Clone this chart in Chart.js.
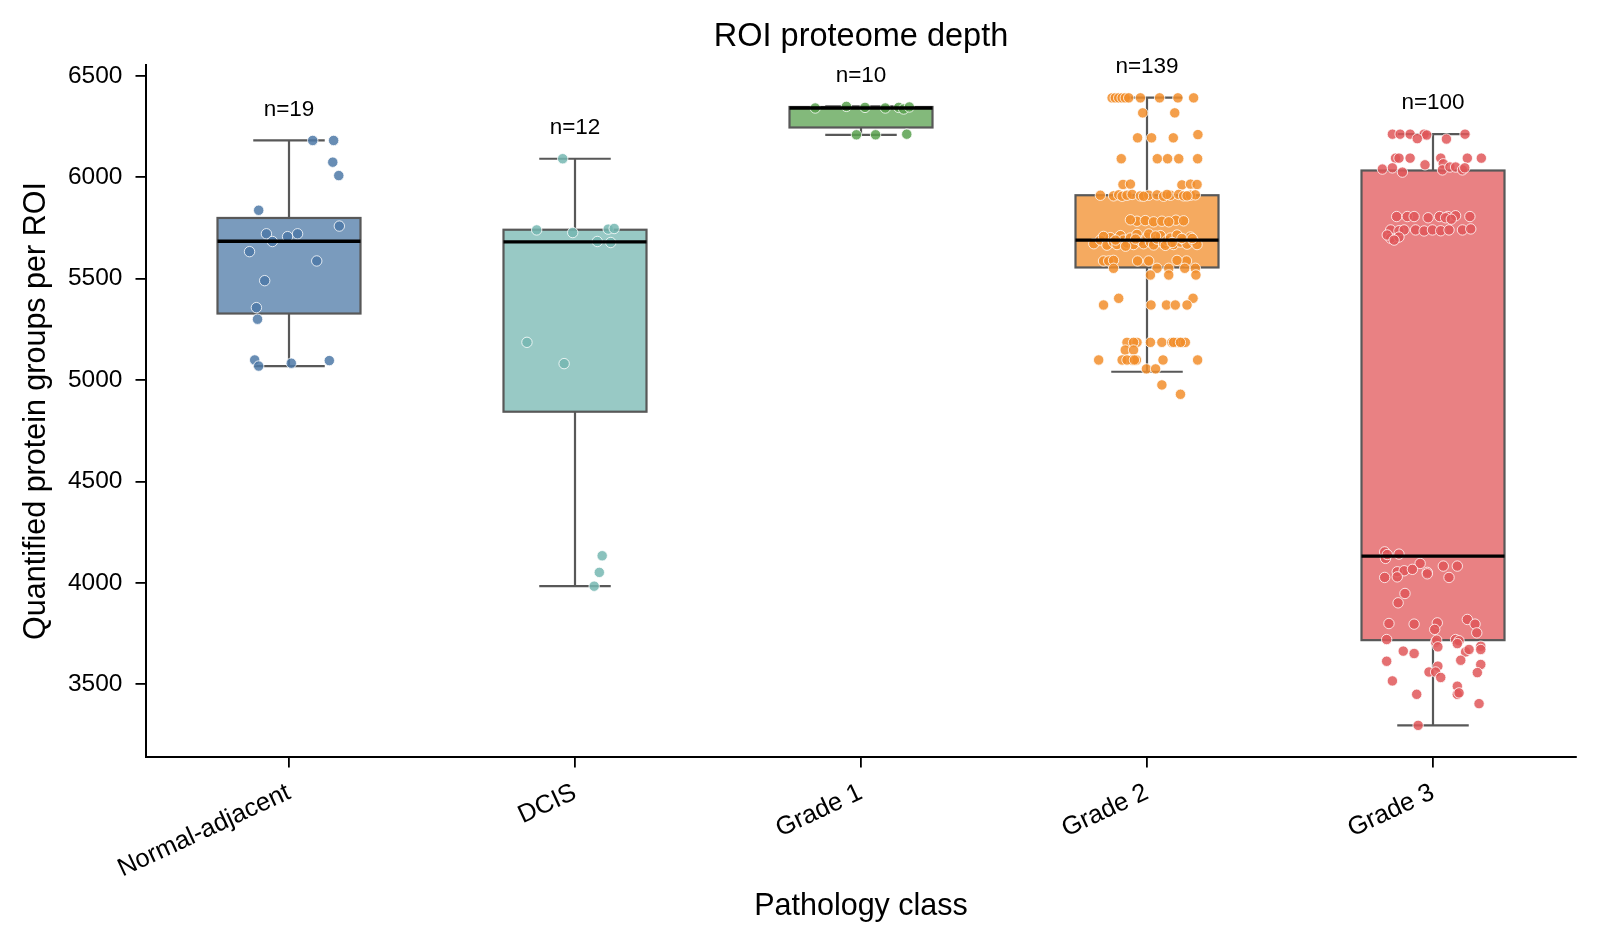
<!DOCTYPE html>
<html>
<head>
<meta charset="utf-8">
<title>ROI proteome depth</title>
<script src="https://cdn.jsdelivr.net/npm/chart.js@4.4.1/dist/chart.umd.min.js"></script>
<style>
  html, body { margin: 0; padding: 0; background: #fff; }
  #wrap { width: 1600px; height: 947px; position: relative; }
</style>
</head>
<body>
<div id="wrap"><canvas id="chart"></canvas></div>
<script>
// categorias e estatisticas das caixas
const categories = ['Normal-adjacent', 'DCIS', 'Grade 1', 'Grade 2', 'Grade 3'];
const counts = [19, 12, 10, 139, 100];
const whiskerLow = [5069, 3984, 6209, 5041, 3298];
const q1 = [5328, 4844, 6245, 5555, 3718];
const median = [5684, 5681, 6341, 5690, 4132];
const q3 = [5799, 5741, 6346, 5911, 6033];
const whiskerHigh = [6181, 6091, 6349, 6392, 6212];
const yTicks = [3500, 4000, 4500, 5000, 5500, 6000, 6500];
const colors = ['#4e79a7', '#76b7b2', '#59a14f', '#f28e2b', '#e15759'];

// pontos: [deslocamento horizontal, valor]
const normalPts = [
  [0.083, 6181], [0.156, 6181], [0.153, 6074], [0.174, 6008], [-0.106, 5837],
  [0.176, 5759], [-0.079, 5721], [-0.058, 5683], [-0.005, 5707], [0.030, 5721],
  [-0.138, 5633], [0.097, 5587], [-0.085, 5490], [-0.114, 5357], [-0.110, 5300],
  [-0.120, 5099], [-0.106, 5069], [0.008, 5083], [0.141, 5096]
];
const dcisPts = [
  [-0.043, 6091], [-0.134, 5740], [-0.008, 5727], [0.116, 5744], [0.137, 5747],
  [0.078, 5683], [0.125, 5678], [-0.168, 5186], [-0.038, 5081], [0.095, 4134],
  [0.085, 4052], [0.067, 3984]
];
const grade1Pts = [
  [-0.160, 6341], [-0.051, 6349], [0.014, 6344], [0.085, 6341], [0.132, 6344],
  [0.149, 6336], [0.169, 6346], [-0.016, 6209], [0.051, 6209], [0.160, 6212]
];
const grade2Pts = [
  [-0.122, 6391], [-0.111, 6391], [-0.099, 6391], [-0.087, 6391], [-0.076, 6391],
  [-0.064, 6391], [-0.023, 6391], [0.044, 6391], [0.108, 6391], [0.163, 6391],
  [-0.015, 6317], [0.097, 6317],
  [-0.033, 6194], [0.016, 6194], [0.092, 6194], [0.178, 6210],
  [-0.090, 6091], [0.036, 6091], [0.072, 6091], [0.111, 6091], [0.177, 6091],
  [-0.084, 5964], [-0.058, 5966], [0.122, 5962], [0.152, 5966], [0.175, 5964],
  [-0.163, 5911], [-0.117, 5908], [-0.099, 5913], [-0.087, 5906], [-0.070, 5911],
  [-0.052, 5915], [-0.023, 5908], [0.006, 5911], [0.035, 5913], [0.058, 5906],
  [0.082, 5911], [0.111, 5915], [0.128, 5908], [0.152, 5911], [0.169, 5913],
  [-0.012, 5906], [0.070, 5915], [0.140, 5908],
  [-0.035, 5783], [-0.006, 5786], [0.023, 5780], [0.052, 5783], [0.101, 5788],
  [-0.058, 5790], [0.076, 5780], [0.128, 5785],
  [-0.186, 5672], [-0.163, 5690], [-0.140, 5665], [-0.128, 5702], [-0.117, 5680],
  [-0.105, 5668], [-0.093, 5712], [-0.082, 5690], [-0.070, 5675], [-0.058, 5700],
  [-0.047, 5668], [-0.035, 5718], [-0.023, 5685], [-0.012, 5672], [0.000, 5705],
  [0.012, 5680], [0.023, 5666], [0.035, 5695], [0.047, 5712], [0.058, 5672],
  [0.070, 5688], [0.082, 5700], [0.093, 5668], [0.105, 5715], [0.117, 5680],
  [0.128, 5692], [0.140, 5670], [0.152, 5705], [0.163, 5685], [0.175, 5668],
  [-0.152, 5708], [-0.075, 5660], [0.006, 5720], [0.064, 5664], [0.122, 5698],
  [-0.040, 5695], [0.088, 5678], [0.158, 5698], [-0.110, 5690], [0.030, 5710],
  [-0.152, 5587], [-0.134, 5587], [-0.033, 5587], [0.006, 5587], [0.138, 5587],
  [-0.117, 5590], [0.105, 5590],
  [-0.117, 5551], [0.035, 5551], [0.076, 5551], [0.132, 5551], [0.169, 5551],
  [0.012, 5518], [0.076, 5518], [0.171, 5518],
  [-0.099, 5403], [0.161, 5403],
  [-0.152, 5370], [0.014, 5370], [0.068, 5370], [0.099, 5370], [0.140, 5370],
  [-0.070, 5186], [-0.035, 5186], [0.012, 5186], [0.052, 5186], [0.087, 5186],
  [0.105, 5186], [0.122, 5186], [0.134, 5186], [-0.047, 5186], [0.093, 5186],
  [0.117, 5186],
  [-0.076, 5148], [-0.047, 5148],
  [-0.169, 5099], [-0.087, 5099], [-0.052, 5099], [-0.037, 5099], [0.056, 5099],
  [0.177, 5099], [-0.070, 5099], [-0.044, 5099],
  [-0.002, 5055], [0.030, 5055],
  [0.052, 4976], [0.117, 4930]
];
const grade3Pts = [
  [-0.142, 6212], [-0.115, 6212], [-0.080, 6212], [-0.031, 6212], [-0.022, 6208],
  [0.112, 6212], [-0.055, 6190], [0.047, 6188],
  [-0.131, 6094], [-0.119, 6094], [-0.080, 6094], [0.027, 6094], [0.120, 6094],
  [0.169, 6094], [-0.028, 6061], [0.036, 6066],
  [-0.177, 6040], [-0.142, 6046], [-0.107, 6025], [0.033, 6036], [0.059, 6050],
  [0.079, 6050], [0.103, 6036], [0.111, 6046],
  [-0.127, 5806], [-0.090, 5806], [-0.066, 5806], [-0.017, 5800], [0.023, 5806],
  [0.052, 5806], [0.079, 5810], [0.129, 5806], [0.044, 5800], [0.064, 5793],
  [-0.148, 5740], [-0.119, 5736], [-0.101, 5740], [-0.061, 5740], [-0.031, 5735],
  [-0.002, 5740], [0.027, 5736], [0.056, 5740], [0.103, 5740], [0.132, 5745],
  [-0.148, 5699], [-0.119, 5705], [-0.160, 5715], [-0.136, 5690],
  [-0.169, 4153], [-0.119, 4142], [-0.166, 4121], [-0.160, 4140], [-0.045, 4096],
  [0.036, 4083], [0.085, 4083], [-0.125, 4055], [-0.101, 4060], [-0.072, 4067],
  [-0.020, 4052], [-0.020, 4045], [-0.169, 4027], [-0.125, 4030], [0.056, 4027],
  [-0.098, 3948], [-0.122, 3902], [-0.154, 3800], [-0.066, 3797], [0.015, 3803],
  [0.006, 3771], [0.120, 3820], [0.147, 3797], [0.153, 3754], [-0.162, 3721],
  [0.009, 3709], [0.013, 3718], [0.017, 3685], [0.079, 3721], [0.091, 3715],
  [0.085, 3701], [0.114, 3660], [0.126, 3672], [0.167, 3688], [0.167, 3672],
  [-0.104, 3664], [-0.066, 3652], [-0.162, 3614], [0.097, 3619], [0.167, 3598],
  [0.155, 3558], [0.017, 3590], [-0.014, 3561], [0.009, 3561], [0.027, 3534],
  [-0.142, 3517], [0.085, 3491], [0.085, 3451], [0.091, 3458], [-0.057, 3451],
  [0.161, 3405], [-0.052, 3298]
];
const groupPts = [normalPts, dcisPts, grade1Pts, grade2Pts, grade3Pts];

function alpha(hex, a) {
  const n = parseInt(hex.slice(1), 16);
  return `rgba(${n >> 16}, ${(n >> 8) & 255}, ${n & 255}, ${a})`;
}

const FONT = "'Liberation Sans', Arial, Helvetica, sans-serif";
const edgeColor = '#585858';

// caixas, bigodes, medianas e rotulos n=
const boxPlugin = {
  id: 'boxes',
  beforeDatasetsDraw(chart) {
    const { ctx, scales: { x, y } } = chart;
    ctx.save();
    categories.forEach(function(c, i) {
      const left = x.getPixelForValue(i - 0.25);
      const right = x.getPixelForValue(i + 0.25);
      const cx = x.getPixelForValue(i);
      const capL = x.getPixelForValue(i - 0.125);
      const capR = x.getPixelForValue(i + 0.125);
      const yLo = y.getPixelForValue(whiskerLow[i]);
      const yHi = y.getPixelForValue(whiskerHigh[i]);
      const yQ1 = y.getPixelForValue(q1[i]);
      const yQ3 = y.getPixelForValue(q3[i]);

      ctx.strokeStyle = edgeColor;
      ctx.lineWidth = 2.2;
      ctx.beginPath();
      ctx.moveTo(cx, yQ1); ctx.lineTo(cx, yLo);
      ctx.moveTo(cx, yQ3); ctx.lineTo(cx, yHi);
      ctx.moveTo(capL, yLo); ctx.lineTo(capR, yLo);
      ctx.moveTo(capL, yHi); ctx.lineTo(capR, yHi);
      ctx.stroke();

      ctx.fillStyle = alpha(colors[i], 0.75);
      ctx.fillRect(left, yQ3, right - left, yQ1 - yQ3);
      ctx.strokeRect(left, yQ3, right - left, yQ1 - yQ3);
    });
    ctx.restore();
  },
  afterDatasetsDraw(chart) {
    const { ctx, scales: { x, y }, chartArea } = chart;
    ctx.save();
    categories.forEach(function(c, i) {
      const left = x.getPixelForValue(i - 0.25);
      const right = x.getPixelForValue(i + 0.25);
      const yMed = y.getPixelForValue(median[i]);
      ctx.strokeStyle = '#000';
      ctx.lineWidth = 3.4;
      ctx.beginPath();
      ctx.moveTo(left, yMed); ctx.lineTo(right, yMed);
      ctx.stroke();

      ctx.fillStyle = '#000';
      ctx.font = '22.5px ' + FONT;
      ctx.textAlign = 'center';
      ctx.textBaseline = 'middle';
      ctx.fillText('n=' + counts[i], x.getPixelForValue(i), y.getPixelForValue(whiskerHigh[i]) - 31);
    });
    // titulo
    ctx.font = '32.5px ' + FONT;
    ctx.textAlign = 'center';
    ctx.textBaseline = 'middle';
    ctx.fillStyle = '#000';
    ctx.fillText('ROI proteome depth', (chartArea.left + chartArea.right) / 2, 37);
    ctx.restore();
  }
};

const datasets = groupPts.map(function(pts, i) {
  return {
    label: categories[i],
    data: pts.map(p => ({ x: i + p[0], y: p[1] })),
    pointRadius: 5.2,
    pointBackgroundColor: alpha(colors[i], 0.85),
    pointBorderColor: '#ffffff',
    pointBorderWidth: 0.8,
    showLine: false
  };
});

new Chart(document.getElementById('chart'), {
  type: 'scatter',
  data: { datasets: datasets },
  plugins: [boxPlugin],
  options: {
    responsive: true,
    maintainAspectRatio: false,
    animation: false,
    events: [],
    layout: { padding: { top: 65, right: 24, left: 0, bottom: 0 } },
    plugins: {
      legend: { display: false },
      tooltip: { enabled: false },
      title: { display: false }
    },
    scales: {
      x: {
        type: 'linear',
        min: -0.5,
        max: 4.5,
        afterBuildTicks: function(s) { s.ticks = categories.map((c, i) => ({ value: i })); },
        afterFit: function(s) { s.height = 190; },
        ticks: {
          callback: function(v) { return categories[v]; },
          minRotation: 25,
          maxRotation: 25,
          autoSkip: false,
          color: '#000',
          padding: 10,
          font: { family: FONT, size: 25.5 }
        },
        grid: { display: true, drawOnChartArea: false, drawTicks: true, tickLength: 10.5, color: '#000', lineWidth: 1.8 },
        border: { display: true, color: '#000', width: 2 },
        title: {
          display: true,
          text: 'Pathology class',
          color: '#000',
          font: { family: FONT, size: 30.5 },
          padding: { top: 0, bottom: 22 }
        }
      },
      y: {
        type: 'linear',
        min: 3142,
        max: 6553,
        afterBuildTicks: function(s) { s.ticks = yTicks.map(v => ({ value: v })); },
        afterFit: function(s) { s.width = 146; },
        ticks: {
          callback: function(v) { return String(v); },
          color: '#000',
          padding: 13,
          font: { family: FONT, size: 24.5 }
        },
        grid: { display: true, drawOnChartArea: false, drawTicks: true, tickLength: 10.5, color: '#000', lineWidth: 1.8 },
        border: { display: true, color: '#000', width: 2 },
        title: {
          display: true,
          text: 'Quantified protein groups per ROI',
          color: '#000',
          font: { family: FONT, size: 30.5 },
          padding: { top: 18, bottom: 0 }
        }
      }
    }
  }
});
</script>
</body>
</html>
